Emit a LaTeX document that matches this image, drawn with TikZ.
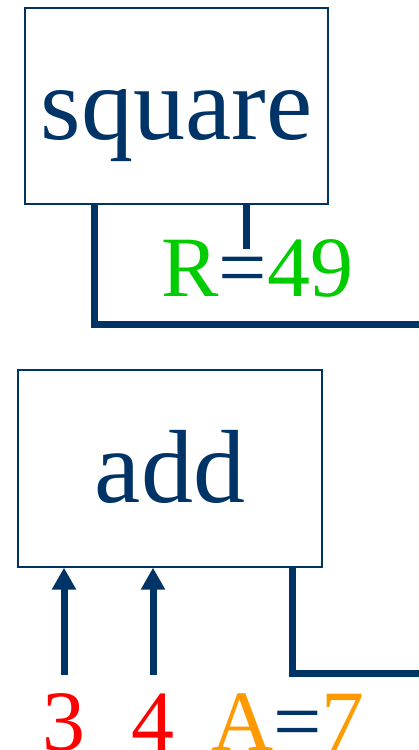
\documentclass[tikz,border=0pt]{standalone}
\usepackage{fontspec}
\setmainfont{Liberation Serif}
\usetikzlibrary{arrows.meta}
\definecolor{navy}{RGB}{0,51,102}
\definecolor{grn}{RGB}{0,204,0}
\definecolor{orng}{RGB}{255,153,0}

\begin{document}
\begin{tikzpicture}[x=1pt,y=1pt,>={Triangle[width=23pt,length=22pt]},
 fnbox/.style={draw=navy,line width=1.4pt,inner sep=0pt,text=navy,font=\fontsize{104}{110}\selectfont,text height=90pt,text depth=22pt},
 wire/.style={navy,line width=7pt},
 val/.style={inner sep=0pt,font=\fontsize{86}{90}\selectfont,anchor=base}]
\useasboundingbox(0,0)rectangle(419,750);
\node[fnbox,minimum width=303pt,minimum height=196pt](sq)at(176.5,644){square};
\node[fnbox,minimum width=304pt,minimum height=197pt](ad)at(170,281.5){add};
\node[val,anchor=base west](r)at(161,453){\textcolor{grn}{R}\textcolor{navy}{=}\textcolor{grn}{49}};
\node[val,text=red](n3)at(64,0){3};
\node[val,text=red](n4)at(153,0){4};
\node[val,anchor=base west](a)at(211,0){\textcolor{orng}{A}\textcolor{navy}{=}\textcolor{orng}{7}};
\coordinate(sqout)at(419,425);
\coordinate(adout)at(419,76.5);
\draw[wire]([xshift=70pt]sq.south west)|-(sqout);
\draw[wire]([xshift=222pt]sq.south west)--++(0,-44);
\draw[wire]([xshift=122pt]ad.south)|-(adout);
\draw[wire,->]([yshift=18pt]n3.north)--(n3.north|-ad.south);
\draw[wire,->]([yshift=18pt]n4.north)--(n4.north|-ad.south);
\end{tikzpicture}
\end{document}
